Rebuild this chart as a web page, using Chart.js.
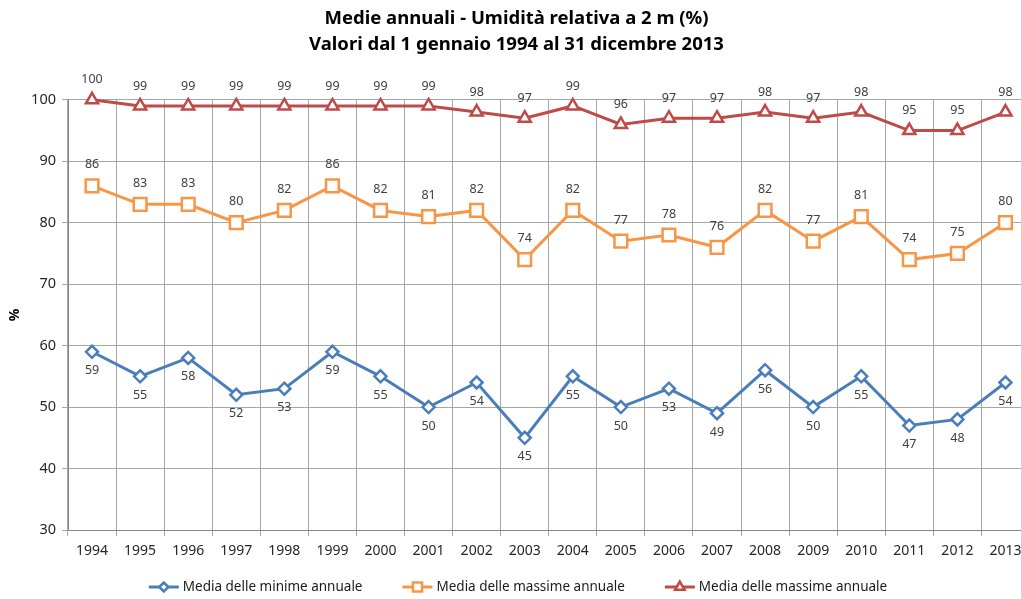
<!DOCTYPE html>
<html>
<head>
<meta charset="utf-8">
<script src="https://cdn.jsdelivr.net/npm/chart.js@4/dist/chart.umd.min.js"></script>
<style>
  html, body { margin: 0; padding: 0; background: #fff; overflow: hidden; }
  #wrap { width: 1021px; height: 599px; overflow: hidden; }
</style>
</head>
<body>
<div id="wrap"><canvas id="myChart" width="1041" height="599"></canvas></div>
<script>
let years = ["1994", "1995", "1996", "1997", "1998", "1999", "2000", "2001", "2002", "2003",
  "2004", "2005", "2006", "2007", "2008", "2009", "2010", "2011", "2012", "2013"];
let minime = [59, 55, 58, 52, 53, 59, 55, 50, 54, 45, 55, 50, 53, 49, 56, 50, 55, 47, 48, 54];
let massime = [86, 83, 83, 80, 82, 86, 82, 81, 82, 74, 82, 77, 78, 76, 82, 77, 81, 74, 75, 80];
let massimeAss = [100, 99, 99, 99, 99, 99, 99, 99, 98, 97, 99, 96, 97, 97, 98, 97, 98, 95, 95, 98];
let yTicks = [30, 40, 50, 60, 70, 80, 90, 100];

const BLUE = "#4a7ebb";
const ORANGE = "#f79646";
const RED = "#be4b48";
const FONT = "'Noto Sans'";

// value labels above / below each point
const valueLabels = {
  id: "valueLabels",
  afterDatasetsDraw(chart) {
    let ctx = chart.ctx;
    ctx.save();
    ctx.font = "12.5px " + FONT;
    ctx.fillStyle = "#404040";
    ctx.textAlign = "center";
    ctx.textBaseline = "middle";
    chart.data.datasets.forEach(function (ds, i) {
      let meta = chart.getDatasetMeta(i);
      meta.data.forEach(function (pt, j) {
        ctx.fillText(ds.data[j], pt.x, pt.y + ds.labelOffset);
      });
    });
    ctx.restore();
  }
};

// legend at the bottom: short line with the marker, then the text
const bottomLegend = {
  id: "bottomLegend",
  afterDraw(chart) {
    let ctx = chart.ctx;
    let y = 587;
    let iconW = 30, textGap = 4, itemGap = 40;
    ctx.save();
    ctx.font = "13.5px " + FONT;
    let items = chart.data.datasets.map(function (ds) {
      return { ds: ds, w: ctx.measureText(ds.label).width };
    });
    let total = 0;
    items.forEach(function (it, i) {
      total += iconW + textGap + it.w + (i < items.length - 1 ? itemGap : 0);
    });
    let x = 518 - total / 2;
    items.forEach(function (it) {
      let ds = it.ds;
      ctx.strokeStyle = ds.borderColor;
      ctx.lineWidth = 3;
      ctx.beginPath();
      ctx.moveTo(x, y);
      ctx.lineTo(x + iconW, y);
      ctx.stroke();
      ctx.fillStyle = "#fff";
      ctx.lineWidth = 2.5;
      Chart.helpers.drawPoint(ctx, { pointStyle: ds.pointStyle, radius: ds.legendRadius, rotation: 0, borderWidth: 2.5 }, x + iconW / 2, y);
      x += iconW + textGap;
      ctx.fillStyle = "#1a1a1a";
      ctx.textAlign = "left";
      ctx.textBaseline = "middle";
      ctx.fillText(ds.label, x, y);
      x += it.w + itemGap;
    });
    ctx.restore();
  }
};

const data = {
  labels: years,
  datasets: [
    {
      label: "Media delle minime annuale",
      data: minime,
      borderColor: BLUE,
      borderWidth: 3,
      pointStyle: "rectRot",
      pointRadius: 6,
      pointBorderWidth: 2.5,
      pointBackgroundColor: "#fff",
      pointBorderColor: BLUE,
      tension: 0,
      clip: false,
      labelOffset: 19,
      legendRadius: 4.5
    },
    {
      label: "Media delle massime annuale",
      data: massime,
      borderColor: ORANGE,
      borderWidth: 3,
      pointStyle: "rect",
      pointRadius: 9,
      pointBorderWidth: 2.5,
      pointBackgroundColor: "#fff",
      pointBorderColor: ORANGE,
      tension: 0,
      clip: false,
      labelOffset: -21,
      legendRadius: 6.5
    },
    {
      label: "Media delle massime annuale",
      data: massimeAss,
      borderColor: RED,
      borderWidth: 3,
      pointStyle: "triangle",
      pointRadius: 7,
      pointBorderWidth: 2.5,
      pointBackgroundColor: "#fff",
      pointBorderColor: RED,
      tension: 0,
      clip: false,
      labelOffset: -20,
      legendRadius: 5.5
    }
  ]
};

const config = {
  type: "line",
  data: data,
  plugins: [valueLabels, bottomLegend],
  options: {
    responsive: false,
    animation: false,
    layout: { padding: { left: 0, right: 8, top: 3, bottom: 27 } },
    plugins: {
      title: {
        display: true,
        text: ["Medie annuali - Umidità relativa a 2 m (%)", "Valori dal 1 gennaio 1994 al 31 dicembre 2013"],
        font: { family: FONT, size: 18.5, weight: "bold", lineHeight: 1.4 },
        color: "#000",
        padding: { top: 3, bottom: 42 }
      },
      legend: { display: false },
      tooltip: { enabled: false }
    },
    scales: {
      x: {
        offset: true,
        grid: { offset: true, color: "#a6a6a6", lineWidth: 1, tickLength: 6 },
        border: { color: "#868686" },
        ticks: { color: "#262626", font: { family: FONT, size: 14 }, padding: 7, maxRotation: 0 },
        afterFit: function (scale) { scale.height = 42; }
      },
      y: {
        min: 30,
        max: 100,
        afterBuildTicks: function (scale) {
          scale.ticks = yTicks.map(function (v) { return { value: v }; });
        },
        grid: { color: "#a6a6a6", lineWidth: 1, tickLength: 6 },
        border: { color: "#868686" },
        ticks: { color: "#262626", font: { family: FONT, size: 14.5 }, padding: 6 },
        title: { display: true, text: "%", color: "#000", font: { family: FONT, size: 14, weight: "bold" }, padding: { top: 7, bottom: 0 } },
        afterFit: function (scale) { scale.width = 68; }
      }
    }
  }
};

const myChart = new Chart(document.getElementById("myChart"), config);
</script>
</body>
</html>
